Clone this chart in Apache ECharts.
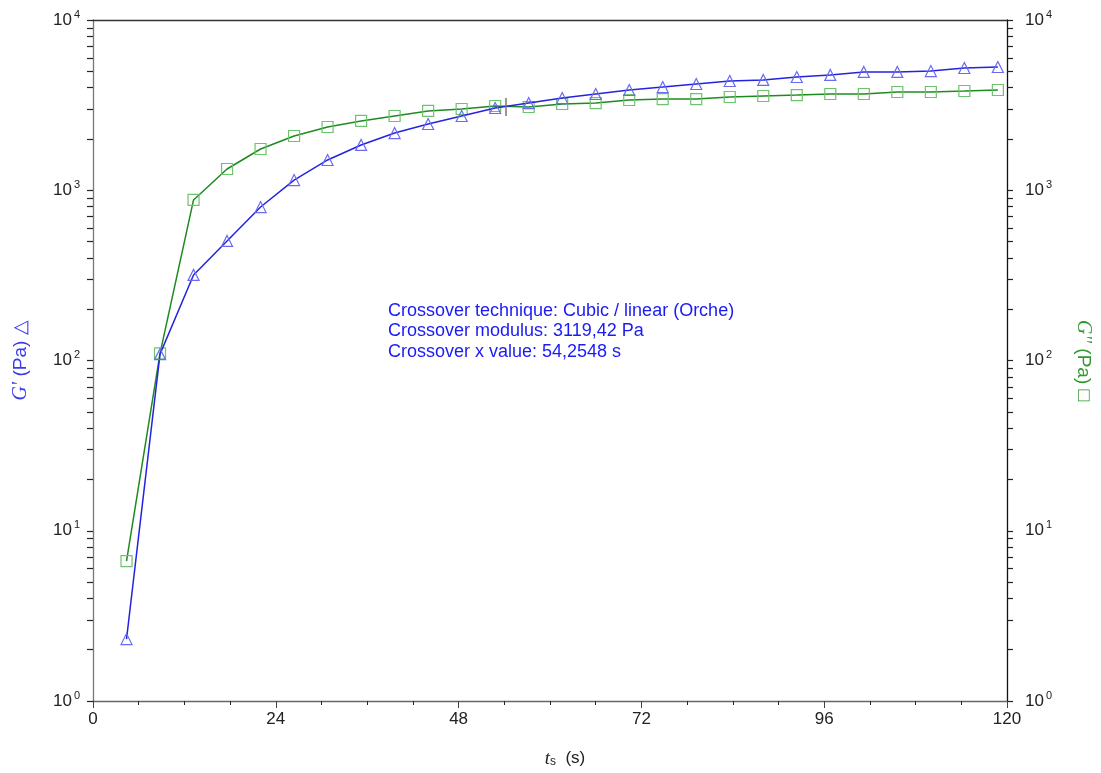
<!DOCTYPE html>
<html>
<head>
<meta charset="utf-8">
<script src="https://cdn.jsdelivr.net/npm/echarts@6/dist/echarts.min.js"></script>
<style>
html,body{margin:0;padding:0;background:#fff;}
#chart{width:1101px;height:773px;}
</style>
</head>
<body>
<div id="chart"></div>
<script>
// time (s)
var timeValues = [4.4, 8.8, 13.2, 17.6, 22.0, 26.4, 30.8, 35.2, 39.6, 44.0, 48.4, 52.8, 57.2, 61.6, 66.0, 70.4, 74.8, 79.2, 83.6, 88.0, 92.4, 96.8, 101.2, 105.6, 110.0, 114.4, 118.8];
// G' storage modulus (Pa)
var gPrime = [2.31, 109, 318, 504, 797, 1148, 1506, 1845, 2168, 2449, 2729, 3041, 3253, 3480, 3675, 3881, 4039, 4208, 4383, 4445, 4627, 4755, 4955, 4955, 5015, 5225, 5297];
// G'' loss modulus (Pa)
var gDoublePrime = [6.64, 110, 877, 1333, 1747, 2083, 2352, 2553, 2729, 2922, 3001, 3125, 3084, 3211, 3253, 3389, 3434, 3434, 3530, 3578, 3625, 3675, 3675, 3777, 3777, 3828, 3881];
var xTicks = [0, 24, 48, 72, 96, 120];
var yMajorTicks = [1, 10, 100, 1000, 10000];
var yAllTicks = [1,2,3,4,5,6,7,8,9,10,20,30,40,50,60,70,80,90,100,200,300,400,500,600,700,800,900,1000,2000,3000,4000,5000,6000,7000,8000,9000,10000];
var crossoverX = 54.2548;
var crossoverModulus = 3119.42;
var crossoverMarkRange = [2730, 3480];
var annotationLines = [
  'Crossover technique: Cubic / linear (Orche)',
  'Crossover modulus: 3119,42 Pa',
  'Crossover x value: 54,2548 s'
];

var blue = '#2323e0', blueMk = '#6a6af2', green = '#1f8a1f', greenMk = '#6cc46c';
var labelFont = 'Liberation Sans';

function pairs(xs, ys){ return xs.map(function(x,i){ return [x, ys[i]]; }); }
function powLabel(v){
  var e = Math.round(Math.log10(v));
  return '{b|10}{s|' + e + '}';
}
var powRich = {
  b: {fontSize: 17, fontFamily: labelFont, color: '#222', lineHeight: 22},
  s: {fontSize: 11, fontFamily: labelFont, color: '#222', verticalAlign: 'top', lineHeight: 12, padding: [0,0,0,2]}
};

function logAxis(pos){
  return {
    type: 'log', logBase: 10, min: 1, max: 10000, position: pos,
    axisLine: {show: true, onZero: false, lineStyle: {color: pos === 'left' ? '#777' : '#111', width: 1.3}},
    axisTick: {show: true, length: 6, inside: false,
      customValues: yAllTicks,
      lineStyle: {color: '#222', width: 1.2}},
    axisLabel: {show: true, margin: pos === 'left' ? 13 : 18, formatter: powLabel, rich: powRich, customValues: yMajorTicks},
    splitLine: {show: false}
  };
}

var yAxes = [logAxis('left'), logAxis('right')];
yAxes[0].name = "{g|G'}{n| (Pa) △}";
yAxes[0].nameLocation = 'middle';
yAxes[0].nameRotate = 90;
yAxes[0].nameGap = 62;
yAxes[0].nameTextStyle = {rich: {
  g: {fontFamily: 'Liberation Serif', fontStyle: 'italic', fontSize: 20, color: '#3a3af0'},
  n: {fontFamily: labelFont, fontSize: 19, color: '#3a3af0'}
}};
yAxes[1].name = "{g|G''}{n| (Pa) □}";
yAxes[1].nameLocation = 'middle';
yAxes[1].nameRotate = -90;
yAxes[1].nameGap = 66;
yAxes[1].nameTextStyle = {rich: {
  g: {fontFamily: 'Liberation Serif', fontStyle: 'italic', fontSize: 20, color: '#2e9a2e'},
  n: {fontFamily: labelFont, fontSize: 19, color: '#2e9a2e'}
}};

var chart = echarts.init(document.getElementById('chart'), null, {renderer: 'canvas'});
chart.setOption({
  backgroundColor: '#fff',
  animation: false,
  grid: {left: 93, right: 94, top: 20, bottom: 72, containLabel: false, outerBoundsMode: 'none'},
  xAxis: [{
    type: 'value', min: xTicks[0], max: xTicks[xTicks.length-1], interval: 24, position: 'bottom',
    axisLine: {onZero: false, lineStyle: {color: '#666', width: 1.3}},
    axisTick: {length: 7, lineStyle: {color: '#444'}},
    minorTick: {show: true, splitNumber: 4, length: 4, lineStyle: {color: '#222'}},
    axisLabel: {margin: 10, fontSize: 17, fontFamily: labelFont, color: '#222'},
    splitLine: {show: false},
    name: '{t|t}{s|s}{n|  (s)}', nameLocation: 'middle', nameGap: 48,
    nameTextStyle: {padding: [0, 0, 0, 30], rich: {
      t: {fontFamily: 'Liberation Serif', fontStyle: 'italic', fontSize: 19, color: '#222'},
      s: {fontFamily: labelFont, fontSize: 12, color: '#222', verticalAlign: 'bottom', lineHeight: 12},
      n: {fontFamily: labelFont, fontSize: 17, color: '#222'}
    }}
  }, {
    type: 'value', min: 0, max: 120, position: 'top',
    axisLine: {onZero: false, lineStyle: {color: '#333', width: 1.3}},
    axisTick: {show: false}, axisLabel: {show: false}, splitLine: {show: false}
  }],
  yAxis: yAxes,
  graphic: annotationLines.map(function(t, i){
    return {type: 'text', left: 388, top: 302 + i*20.5, silent: true,
      style: {text: t, fill: '#1a1af5', font: '18px "Liberation Sans"'}};
  }),
  series: [{
    name: "G'", type: 'line', xAxisIndex: 0, yAxisIndex: 0,
    data: pairs(timeValues, gPrime),
    symbol: 'triangle', symbolSize: 11, showAllSymbol: true,
    lineStyle: {color: blue, width: 1.5},
    itemStyle: {color: 'rgba(0,0,0,0)', borderColor: blueMk, borderWidth: 1.2},
    z: 3
  }, {
    name: "G''", type: 'line', xAxisIndex: 0, yAxisIndex: 1,
    data: pairs(timeValues, gDoublePrime),
    symbol: 'rect', symbolSize: 11, showAllSymbol: true,
    lineStyle: {color: green, width: 1.5},
    itemStyle: {color: 'rgba(0,0,0,0)', borderColor: greenMk, borderWidth: 1.2},
    z: 2,
    markLine: {
      silent: true, symbol: 'none', label: {show: false},
      lineStyle: {color: '#777', width: 1.5, type: 'solid'},
      data: [[{coord: [crossoverX, crossoverMarkRange[0]]}, {coord: [crossoverX, crossoverMarkRange[1]]}]]
    }
  }]
});
</script>
</body>
</html>
